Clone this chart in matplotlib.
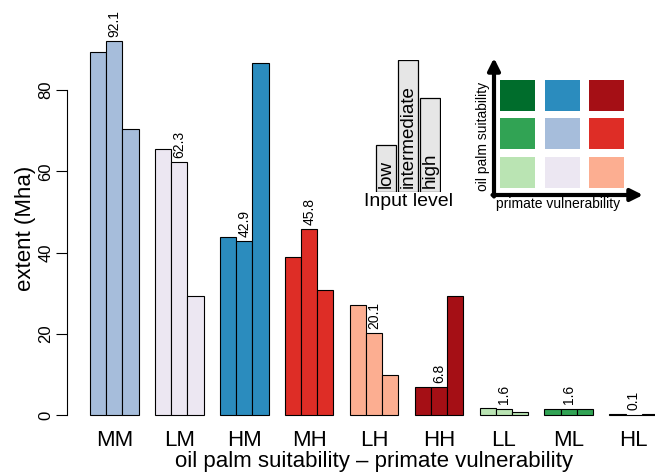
import numpy as np
import matplotlib.pyplot as plt
from matplotlib.patches import Rectangle

plt.rcParams['font.family'] = ['Liberation Sans', 'DejaVu Sans']

# extent (Mha) per suitability-vulnerability class and input level
classes = ["MM", "LM", "HM", "MH", "LH", "HH", "LL", "ML", "HL"]
low = [89.4, 65.6, 43.7, 38.8, 27.2, 6.8, 1.7, 1.6, 0.2]
intermediate = [92.1, 62.3, 42.9, 45.8, 20.1, 6.8, 1.6, 1.6, 0.1]
high = [70.3, 29.3, 86.6, 30.8, 9.8, 29.3, 0.8, 1.6, 0.2]
class_colors = ["#a6bddb", "#ece7f2", "#2b8cbe", "#de2d26", "#fcae91",
                "#a50f15", "#bae4b3", "#31a354", "#006d2c"]

# legend: 3x3 colour grid (rows: suitability high->low, cols: vulnerability low->high)
grid_colors = [["#006d2c", "#2b8cbe", "#a50f15"],
               ["#31a354", "#a6bddb", "#de2d26"],
               ["#bae4b3", "#ece7f2", "#fcae91"]]
input_levels = ["low", "intermediate", "high"]
input_heights = [46, 131, 93]

W, H = 655, 474
fig = plt.figure(figsize=(W / 100, H / 100), dpi=100)


def px_axes(x0, y0, x1, y1):
    # axes from pixel box (top-left origin)
    return fig.add_axes([x0 / W, (H - y1) / H, (x1 - x0) / W, (y1 - y0) / H])


ax = px_axes(67.3, 25.9, 680.8, 430)

ng = len(classes)
series = [low, intermediate, high]
for k, vals in enumerate(series):
    xs = [1 + 4 * g + k + 0.5 for g in range(ng)]
    ax.bar(xs, vals, width=1.0, color=class_colors, edgecolor="black",
           linewidth=0.8, zorder=2)

for g in range(ng):
    ax.annotate(f"{intermediate[g]:.1f}", (1 + 4 * g + 1.5, intermediate[g]),
                xytext=(0, 3), textcoords="offset points", rotation=90,
                ha="center", va="bottom", fontsize=10)

ax.set_xlim(-0.4, 37.4)
ax.set_ylim(-3.684, 95.784)
ax.set_xticks([1 + 4 * g + 1.5 for g in range(ng)])
ax.set_xticklabels(classes, fontsize=16)
ax.tick_params(axis="x", length=0, pad=0)
ax.set_yticks([0, 20, 40, 60, 80])
ax.tick_params(axis="y", labelsize=12, length=8, width=0.8, pad=2,
               labelrotation=90)
for lab in ax.get_yticklabels():
    lab.set_va("center")
for s in ["top", "right", "bottom"]:
    ax.spines[s].set_visible(False)
ax.spines["left"].set_bounds(0, 80)
ax.spines["left"].set_linewidth(0.8)
ax.set_ylabel("extent (Mha)", fontsize=16, labelpad=2)
ax.set_xlabel("oil palm suitability \u2013 primate vulnerability", fontsize=16,
              va="center")
ax.xaxis.set_label_coords(0.5, (430 - 461) / 404.1)

# input level legend
ax2 = px_axes(375, 60, 441, 191.7)
ax2.bar(range(3), input_heights, width=0.95, color="#e6e6e6",
        edgecolor="black", linewidth=0.9)
for i, name in enumerate(input_levels):
    ax2.text(i, 4, name, rotation=90, ha="center", va="bottom", fontsize=13.5)
ax2.set_xlim(-0.5, 2.5)
ax2.set_ylim(0, max(input_heights))
ax2.axis("off")
fig.text(408 / W, (H - 202) / H, "Input level", ha="center", va="center",
         fontsize=14)

# colour grid legend
ax3 = px_axes(494, 58, 643, 195)
ax3.set_xlim(0, 149)
ax3.set_ylim(0, 137)
ax3.axis("off")
for r, row in enumerate(grid_colors):
    for c, col in enumerate(row):
        ax3.add_patch(Rectangle((6 + c * 44.5, 7 + (2 - r) * 38.7), 35, 31,
                                facecolor=col, edgecolor="none"))
arrow = dict(arrowstyle="-|>", lw=3, color="black", mutation_scale=18,
             shrinkA=0, shrinkB=0)
ax3.annotate("", xy=(149, 0), xytext=(-1.5, 0), arrowprops=arrow,
             annotation_clip=False)
ax3.annotate("", xy=(0, 137), xytext=(0, -1.5), arrowprops=arrow,
             annotation_clip=False)
fig.text(558 / W, (H - 204) / H, "primate vulnerability", ha="center",
         va="center", fontsize=10)
fig.text(483 / W, (H - 136) / H, "oil palm suitability", ha="center",
         va="center", fontsize=10, rotation=90)

fig.savefig("out.png", dpi=100)
